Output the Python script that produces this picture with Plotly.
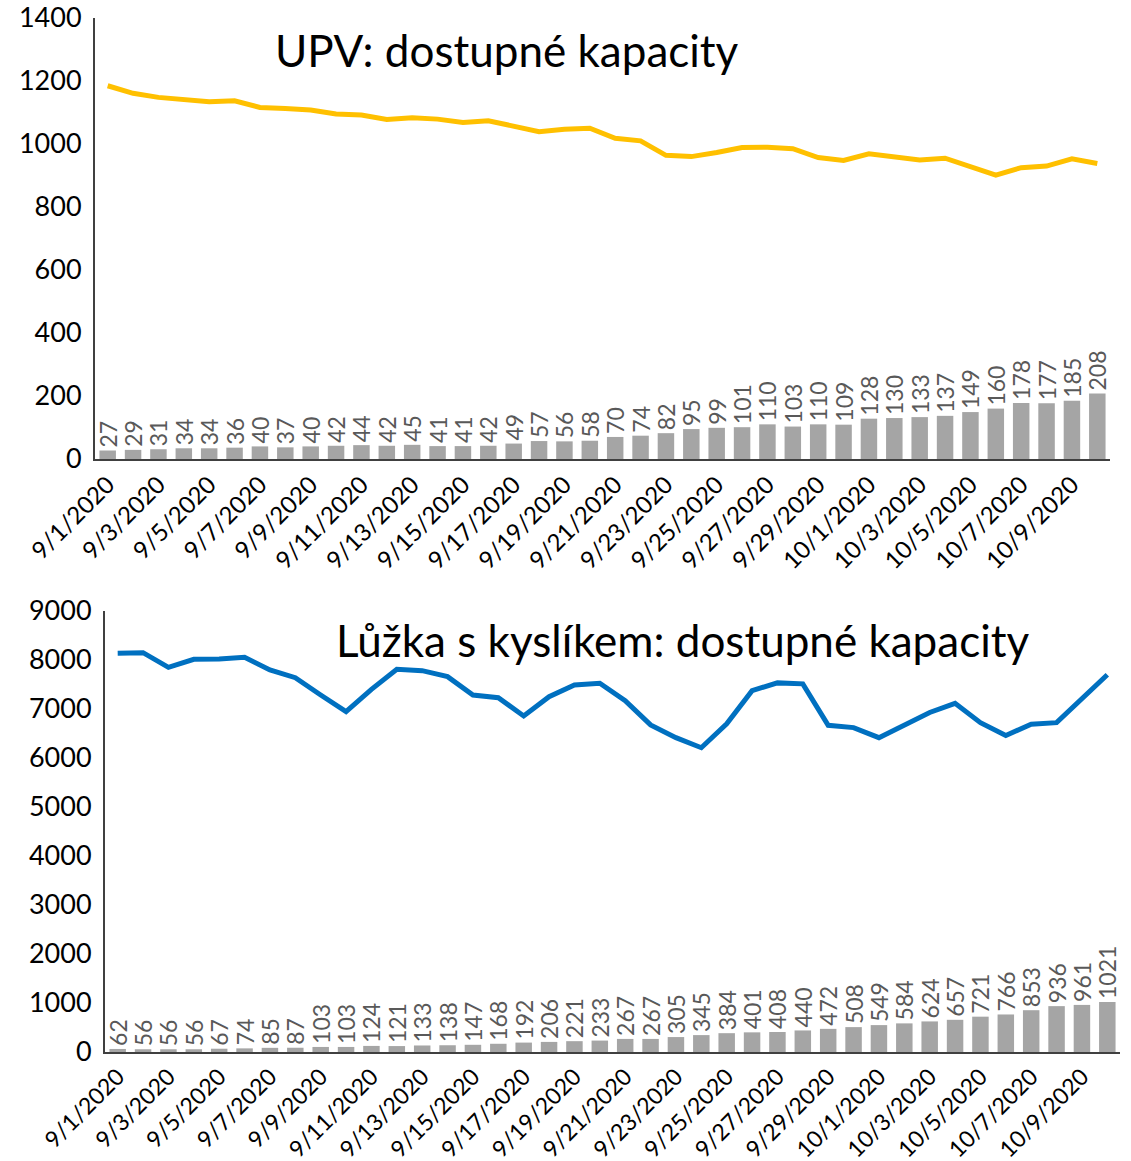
import plotly.graph_objects as go

dates = ["9/%d/2020" % d for d in range(1, 31)] + ["10/%d/2020" % d for d in range(1, 11)]

upv_used = [27, 29, 31, 34, 34, 36, 40, 37, 40, 42, 44, 42, 45, 41, 41, 42, 49, 57, 56, 58,
            70, 74, 82, 95, 99, 101, 110, 103, 110, 109, 128, 130, 133, 137, 149, 160, 178, 177, 185, 208]
upv_free = [1185, 1161, 1148, 1142, 1134, 1137, 1116, 1113, 1108, 1095, 1092, 1078, 1083, 1079, 1068,
            1074, 1057, 1039, 1047, 1050, 1018, 1010, 964, 960, 973, 989, 990, 985, 957, 948,
            969, 960, 949, 955, 927, 901, 925, 930, 953, 938]

o2_used = [62, 56, 56, 56, 67, 74, 85, 87, 103, 103, 124, 121, 133, 138, 147, 168, 192, 206, 221, 233,
           267, 267, 305, 345, 384, 401, 408, 440, 472, 508, 549, 584, 624, 657, 721, 766, 853, 936, 961, 1021]
o2_free = [8140, 8150, 7850, 8014, 8020, 8054, 7796, 7639, 7286, 6946, 7401, 7810, 7782, 7660, 7286,
           7231, 6857, 7252, 7490, 7525, 7170, 6675, 6415, 6210, 6700, 7375, 7533, 7513, 6667, 6620,
           6415, 6667, 6930, 7115, 6722, 6460, 6688, 6722, 7204, 7700]

tick_dates = dates[::2]
titles = ["UPV: dostupné kapacity", "Lůžka s kyslíkem: dostupné kapacity"]

W, H = 1131, 1161
FONT = "Lato"
BAR_COLOR = "#A5A5A5"
LABEL_COLOR = "#595959"

fig = go.Figure()

for used, free, color, xa, ya in [
        (upv_used, upv_free, "#FFC000", "x", "y"),
        (o2_used, o2_free, "#0070C0", "x2", "y2")]:
    fig.add_trace(go.Bar(
        x=dates, y=used, xaxis=xa, yaxis=ya,
        marker=dict(color=BAR_COLOR, line=dict(width=0)),
        text=[str(v) for v in used], textposition="outside", textangle=-90,
        textfont=dict(family=FONT, size=23, color=LABEL_COLOR),
        constraintext="none", cliponaxis=False, showlegend=False))
    fig.add_trace(go.Scatter(
        x=dates, y=free, xaxis=xa, yaxis=ya, mode="lines",
        line=dict(color=color, width=5), showlegend=False))

def px_x(a, b):
    return [a / W, b / W]

def px_y(top, bottom):
    return [1 - bottom / H, 1 - top / H]

axis_common = dict(showgrid=False, zeroline=False, showline=True, linecolor="#404040", linewidth=2,
                   ticks="", automargin=False, ticklabeloverflow="allow")

fig.update_layout(
    width=W, height=H,
    margin=dict(l=0, r=0, t=0, b=0),
    paper_bgcolor="white", plot_bgcolor="white",
    bargap=0.35,
    font=dict(family=FONT, color="black"),
    xaxis=dict(domain=px_x(95, 1110), anchor="y", type="category", range=[-0.5, 39.5],
               tickvals=tick_dates, ticktext=tick_dates, tickangle=-45,
               tickfont=dict(family=FONT, size=24, color="black"), **axis_common),
    yaxis=dict(domain=px_y(18, 459), anchor="x", range=[0, 1400], dtick=200,
               tickfont=dict(family=FONT, size=27, color="black"), ticklabelstandoff=6,
               **axis_common),
    xaxis2=dict(domain=px_x(105, 1120), anchor="y2", type="category", range=[-0.5, 39.5],
                tickvals=tick_dates, ticktext=tick_dates, tickangle=-45,
                tickfont=dict(family=FONT, size=23, color="black"), **axis_common),
    yaxis2=dict(domain=px_y(611, 1052), anchor="x2", range=[0, 9000], dtick=1000,
                tickfont=dict(family=FONT, size=27, color="black"), ticklabelstandoff=6,
                **axis_common),
    annotations=[
        dict(text=titles[0], x=507 / W, y=1 - 50 / H, xref="paper", yref="paper",
             showarrow=False, font=dict(family=FONT, size=44, color="black"),
             xanchor="center", yanchor="middle"),
        dict(text=titles[1], x=682 / W, y=1 - 640 / H, xref="paper", yref="paper",
             showarrow=False, font=dict(family=FONT, size=44, color="black"),
             xanchor="center", yanchor="middle"),
    ],
)

fig.write_html("out.html", config={"displayModeBar": False},
               post_script="document.body.style.margin='0px';")
